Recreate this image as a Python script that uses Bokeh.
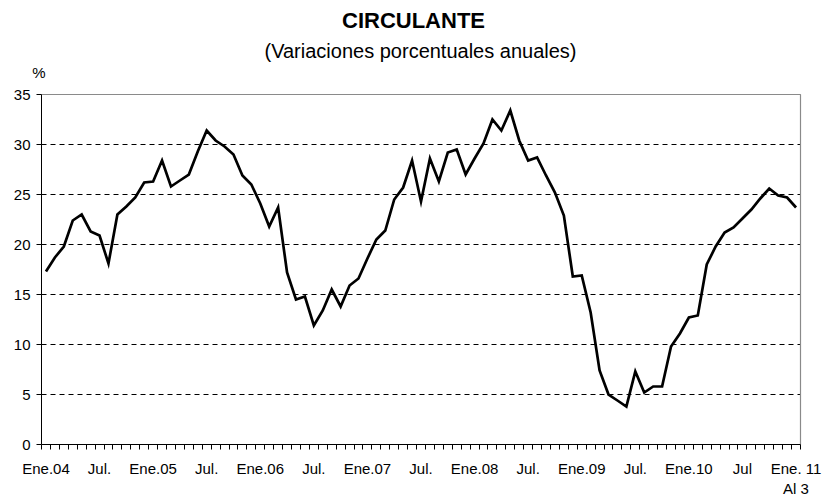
from bokeh.plotting import figure
from bokeh.models import Range1d, FixedTicker, Label, ColumnDataSource
from bokeh.embed import file_html
from bokeh.resources import INLINE

# Monthly annual % change of currency in circulation, Ene.2004 .. Ene.2011
values = [
    17.3, 18.7, 19.8, 22.4, 23.0, 21.3, 20.9, 18.1, 23.0, 23.8, 24.7, 26.2,   # 2004
    26.3, 28.4, 25.8, 26.4, 27.0, 29.3, 31.4, 30.4, 29.8, 29.0, 26.9, 26.0,   # 2005
    24.1, 21.8, 23.7, 17.2, 14.5, 14.8, 11.9, 13.4, 15.5, 13.8, 15.9, 16.6,   # 2006
    18.6, 20.5, 21.4, 24.5, 25.7, 28.4, 24.3, 28.6, 26.3, 29.2, 29.5, 27.0,   # 2007
    28.6, 30.1, 32.5, 31.4, 33.4, 30.4, 28.4, 28.7, 26.9, 25.2, 22.9, 16.8,   # 2008
    16.9, 13.2, 7.4, 5.0, 4.4, 3.8, 7.3, 5.2, 5.8, 5.8, 9.8, 11.1,            # 2009
    12.7, 12.9, 18.0, 19.8, 21.2, 21.7, 22.6, 23.5, 24.6, 25.6, 24.9, 24.7,   # 2010
    23.7,                                                                     # 2011
]
label_positions = [0, 6, 12, 18, 24, 30, 36, 42, 48, 54, 60, 66, 72, 78, 84]
label_texts = ["Ene.04", "Jul.", "Ene.05", "Jul.", "Ene.06", "Jul.", "Ene.07", "Jul.",
               "Ene.08", "Jul.", "Ene.09", "Jul.", "Ene.10", "Jul", "Ene. 11\nAl 3"]
y_ticks = [0, 5, 10, 15, 20, 25, 30, 35]
grid_values = [5, 10, 15, 20, 25, 30]
title_text = "CIRCULANTE"
subtitle_text = "(Variaciones porcentuales anuales)"
unit_text = "%"

n = len(values)
src = ColumnDataSource(dict(x=list(range(n)), y=values))

# ---- geometry (canvas pixels) ----
W, H = 824, 497
AX_LEFT, AX_RIGHT = 41, 800       # plotting area, horizontally
AX_TOP, AX_BOTTOM = 94, 444       # plotting area, vertically
Y_MIN, Y_MAX = 0, 35
x_lo, x_hi = -0.5, n - 0.5
px_per_cat = (AX_RIGHT - AX_LEFT) / (x_hi - x_lo)
px_per_unit = (AX_BOTTOM - AX_TOP) / (Y_MAX - Y_MIN)
# the frame covers the whole canvas; both axes are pinned to the plotting area
x_start = x_lo - AX_LEFT / px_per_cat
x_end = x_hi + (W - AX_RIGHT) / px_per_cat
y_start = Y_MIN - (H - AX_BOTTOM) / px_per_unit
y_end = Y_MIN + AX_BOTTOM / px_per_unit
FONT = "Liberation Sans"

p = figure(width=W, height=H, output_backend="svg", toolbar_location=None,
           x_range=Range1d(x_start, x_end), y_range=Range1d(y_start, y_end),
           min_border_left=0, min_border_right=0, min_border_top=0, min_border_bottom=0,
           background_fill_color="white", border_fill_color="white")
p.title.text = ""
p.outline_line_color = None
p.xgrid.visible = False
p.ygrid.visible = False

# dashed horizontal gridlines limited to the plotting area
p.segment(x0=[x_lo] * len(grid_values), x1=[x_hi] * len(grid_values),
          y0=grid_values, y1=grid_values,
          line_color="black", line_width=1, line_dash="5 4")
# top and right edges of the plotting area
p.line(x=[x_lo, x_hi, x_hi], y=[Y_MAX, Y_MAX, Y_MIN], line_color="#8a8a8a", line_width=1.2)

# y axis, pinned to the left edge of the plotting area
ya = p.yaxis[0]
ya.fixed_location = x_lo
ya.bounds = (Y_MIN, Y_MAX)
ya.ticker = FixedTicker(ticks=y_ticks)
ya.axis_line_color = "black"
ya.major_tick_line_color = "black"
ya.major_tick_out = 5
ya.major_tick_in = 0
ya.minor_tick_line_color = None
ya.major_label_standoff = 6
ya.major_label_text_font = FONT
ya.major_label_text_font_size = "15px"
ya.major_label_text_color = "black"

# x axis, pinned to the bottom edge of the plotting area
xa = p.xaxis[0]
xa.fixed_location = Y_MIN
xa.bounds = (x_lo, x_hi)
xa.ticker = FixedTicker(ticks=label_positions,
                        minor_ticks=[i - 0.5 for i in range(n + 1)])
xa.major_label_overrides = {pos: txt for pos, txt in zip(label_positions, label_texts)}
xa.axis_line_color = "black"
xa.major_tick_line_color = None
xa.major_tick_out = 5
xa.major_tick_in = 0
xa.minor_tick_line_color = "black"
xa.minor_tick_out = 5
xa.minor_tick_in = 0
xa.major_label_standoff = 10
xa.major_label_text_font = FONT
xa.major_label_text_font_size = "15px"
xa.major_label_text_color = "black"

p.line("x", "y", source=src, line_color="black", line_width=2.7, line_join="miter")

# text placement helpers: canvas pixel -> data coordinates
def dx(px):
    return x_start + px / px_per_cat
def dy(py):
    return y_end - py / px_per_unit

p.add_layout(Label(x=dx(413), y=dy(20), text=title_text, text_align="center",
                   text_baseline="middle", text_font=FONT, text_font_size="22px",
                   text_font_style="bold", text_color="black"))
p.add_layout(Label(x=dx(420), y=dy(50), text=subtitle_text, text_align="center",
                   text_baseline="middle", text_font=FONT, text_font_size="20px",
                   text_color="black"))
p.add_layout(Label(x=dx(38.5), y=dy(72), text=unit_text, text_align="center",
                   text_baseline="middle", text_font=FONT, text_font_size="15px",
                   text_color="black"))

open("out.html", "w").write(file_html(p, INLINE))
